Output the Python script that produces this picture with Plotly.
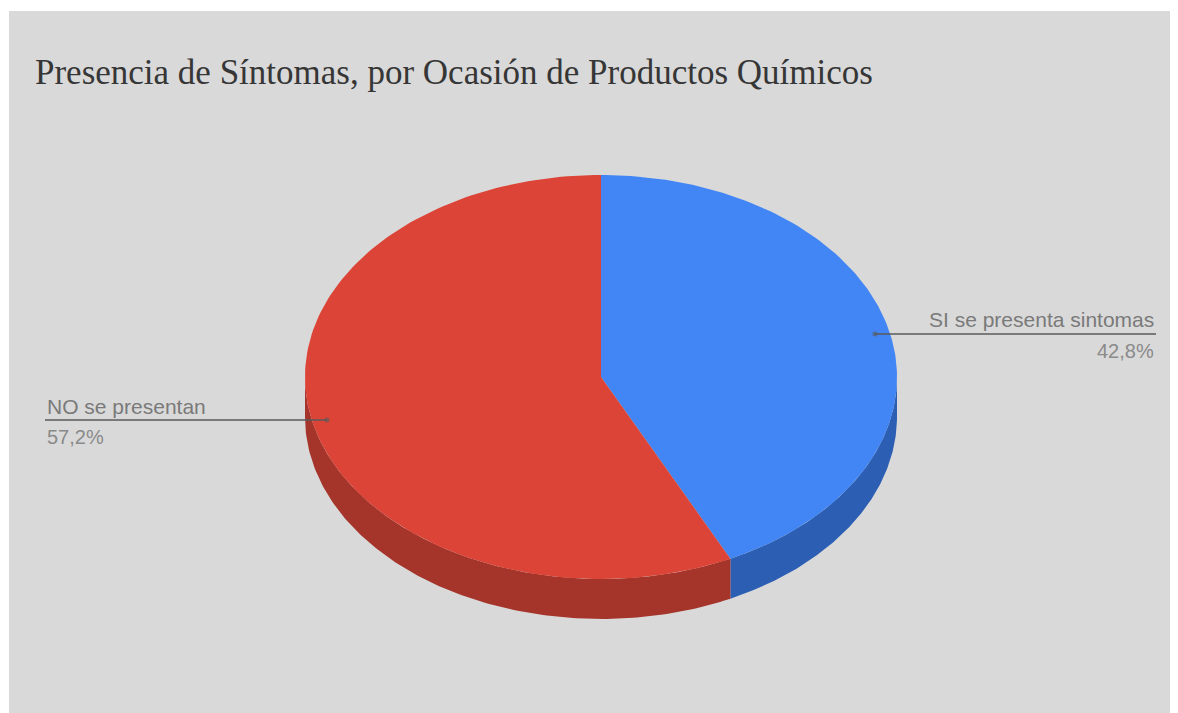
import numpy as np
import plotly.graph_objects as go

title = "Presencia de Síntomas, por Ocasión de Productos Químicos"
labels = ["SI se presenta sintomas", "NO se presentan"]
values = [42.8, 57.2]
pct_text = ["42,8%", "57,2%"]
top_colors = ["#4285f4", "#db4437"]
side_colors = ["#2c5fb4", "#a5342a"]

# geometry (screen-like data coordinates)
CX, CY, RX, RY, DEPTH = 601, 377, 296, 202, 40


def rim(t0, t1, n=160, dy=0.0, k=1.0):
    t = np.radians(np.linspace(t0, t1, n))
    return CX + k * RX * np.sin(t), CY - k * RY * np.cos(t) + dy


total = sum(values)
bounds = np.concatenate([[0.0], np.cumsum(values) / total * 360.0])

fig = go.Figure()

# visible side walls (front half)
for i in range(len(values)):
    a, b = max(bounds[i], 90.0), min(bounds[i + 1], 270.0)
    if a < b:
        x1, y1 = rim(a, b)
        x2, y2 = rim(b, a, dy=DEPTH)
        fig.add_trace(go.Scatter(
            x=np.concatenate([x1, x2]), y=np.concatenate([y1, y2]),
            fill="toself", fillcolor=side_colors[i], mode="lines",
            line=dict(width=0, color=side_colors[i]),
            hoverinfo="skip", showlegend=False))

# top faces
for i in range(len(values)):
    xs, ys = rim(bounds[i], bounds[i + 1])
    fig.add_trace(go.Scatter(
        x=np.concatenate([[CX], xs, [CX]]), y=np.concatenate([[CY], ys, [CY]]),
        fill="toself", fillcolor=top_colors[i], mode="lines",
        line=dict(width=0, color=top_colors[i]),
        name=labels[i], text=f"{labels[i]}: {pct_text[i]}", hoverinfo="text",
        showlegend=False))

# leader lines and labels
RIGHT_X, LEFT_X = 1156, 45
for i in range(len(values)):
    m = (bounds[i] + bounds[i + 1]) / 2.0
    ax, ay = rim(m, m, n=1, k=0.95)
    ax, ay = float(ax[0]), float(ay[0])
    right = np.sin(np.radians(m)) > 0
    ex = RIGHT_X if right else LEFT_X
    fig.add_trace(go.Scatter(
        x=[ax, ex], y=[ay, ay], mode="lines",
        line=dict(color="#5a5a5a", width=1.5),
        hoverinfo="skip", showlegend=False))
    fig.add_trace(go.Scatter(
        x=[ax], y=[ay], mode="markers",
        marker=dict(size=5, color="rgba(90,90,90,0.6)"),
        hoverinfo="skip", showlegend=False))
    anchor = "right" if right else "left"
    fig.add_annotation(x=ex, y=ay - 14, xref="x", yref="y", text=labels[i],
                       showarrow=False, xanchor=anchor, yanchor="middle",
                       font=dict(family="Liberation Sans, Arial", size=21, color="#7a7a7a"))
    fig.add_annotation(x=ex, y=ay + 17, xref="x", yref="y", text=pct_text[i],
                       showarrow=False, xanchor=anchor, yanchor="middle",
                       font=dict(family="Liberation Sans, Arial", size=20, color="#8a8a8a"))

# the page body has an 8px margin: size the figure to fill the rest of the window
W, H, OFF = 1178, 705, 8
fig.update_layout(
    width=W, height=H,
    margin=dict(l=9 - OFF, t=11 - OFF, r=0, b=0, pad=0),
    paper_bgcolor="white",
    plot_bgcolor="#d9d9d9",
    xaxis=dict(range=[9, 1186], visible=False, fixedrange=True),
    yaxis=dict(range=[713, 11], visible=False, fixedrange=True),
    title=dict(text=title, x=(35 - OFF) / W, xanchor="left", y=1 - (72 - OFF) / H, yanchor="middle",
               font=dict(family="Liberation Serif, Times New Roman, serif", size=35, color="#363636")),
    showlegend=False,
)

fig.write_html("out.html")
